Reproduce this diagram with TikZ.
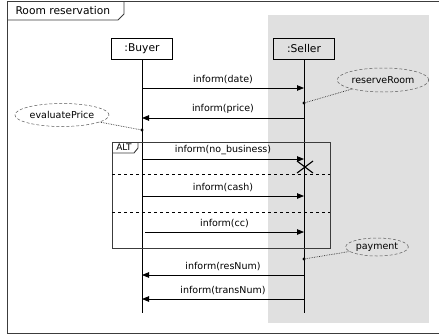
\documentclass[tikz,border=0pt]{standalone}
\usepackage{fontspec}
\setmainfont{DejaVu Sans}
\usetikzlibrary{arrows.meta,positioning,calc,shapes.geometric}
\definecolor{lanegray}{RGB}{224,224,224}
\definecolor{framegray}{RGB}{60,60,60}

\begin{document}
\begin{tikzpicture}[x=1pt,y=-1pt,
  object/.style={draw,thick,minimum width=61pt,minimum height=21pt,inner sep=0pt,font=\fontsize{10.7}{12}\selectfont},
  msg/.style={line width=0.8pt,-{Triangle[length=7pt,width=5.5pt]}},
  lbl/.style={font=\fontsize{9.5}{11}\selectfont,above=1pt},
  lifeline/.style={line width=0.8pt},
  note/.style={ellipse,draw=gray!70!black,densely dashed,line width=0.5pt,inner sep=1pt,font=\fontsize{9.5}{11}\selectfont},
  link/.style={densely dotted,line width=0.7pt,gray!40!black},
  guard/.style={dashed,dash pattern=on 3pt off 3pt,line width=0.8pt}]
\useasboundingbox (0,0) rectangle (439,335);
% seller lane
\fill[lanegray] (268,15) rectangle (429,323);
% outer frame
\draw[framegray,line width=0.9pt] (7,1) rectangle (445,333);
\draw[framegray,line width=0.9pt] (7,20) -- (118,20) -- (124,14) -- (124,1);
\node[anchor=west,font=\fontsize{10.7}{12}\selectfont] (title) at (12,11) {Room reservation};

% objects and lifelines
\node[object] (buyer) at (142,49) {:Buyer};
\node[object] (seller) at (304,49) {:Seller};
\coordinate (bend) at (142,313);
\coordinate (send) at (304,313);
\draw[lifeline] (buyer.south) -- (bend);
\draw[lifeline] (seller.south) -- (send);

% ALT fragment
\draw[framegray,line width=0.9pt] (112,142) rectangle (330,248);
\draw[framegray,line width=0.9pt] (112,153) -- (134,153) -- (138,148) -- (138,142);
\node[font=\fontsize{9}{10}\selectfont] (alt) at (124,147.5) {ALT};
\draw[guard] (112,174) -- (330,174);
\draw[guard] (112,212) -- (330,212);

% messages
\coordinate (b1) at (142,88);  \coordinate (s1) at (304,88);
\coordinate (b2) at (142,118); \coordinate (s2) at (304,118);
\coordinate (b3) at (142,159); \coordinate (s3) at (304,159);
\coordinate (b4) at (142,196); \coordinate (s4) at (304,196);
\coordinate (b5) at (145,232); \coordinate (s5) at (304,232);
\coordinate (b6) at (142,275); \coordinate (s6) at (304,275);
\coordinate (b7) at (142,299); \coordinate (s7) at (304,299);
\draw[msg] (b1) -- node[lbl] {inform(date)} (s1);
\draw[msg] (s2) -- node[lbl] {inform(price)} (b2);
\draw[msg] (b3) -- node[lbl] {inform(no\_business)} (s3);
\draw[msg] (b4) -- node[lbl] {inform(cash)} (s4);
\draw[msg] (b5) -- node[lbl] {inform(cc)} (s5);
\draw[msg] (s6) -- node[lbl] {inform(resNum)} (b6);
\draw[msg] (s7) -- node[lbl] {inform(transNum)} (b7);

% destruction mark
\draw[line width=1.1pt] (297,161) -- (313,173) (297,173) -- (313,161);

% notes
\node[note,minimum width=80pt,minimum height=24pt] (reserve) at (383,80) {reserveRoom};
\node[note,minimum width=80pt,minimum height=23pt] (evaluate) at (62,115) {evaluatePrice};
\node[note,minimum width=57pt,minimum height=18pt] (payment) at (377,247) {payment};
\coordinate (d1) at (304,103);
\coordinate (d2) at (142,130);
\coordinate (d3) at (304,259);
\foreach \d in {d1,d2,d3}
  \fill (\d) circle (1.6pt);
\draw[link] (d1) -- (reserve);
\draw[link] (d2) -- (evaluate);
\draw[link] (d3) -- (payment);
\end{tikzpicture}
\end{document}
